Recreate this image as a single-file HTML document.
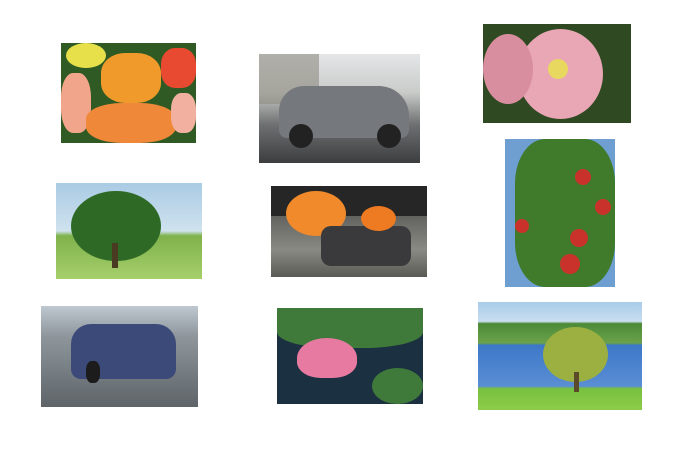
<!DOCTYPE html>
<html><head><meta charset="utf-8"><style>
body{margin:0;width:688px;height:454px;background:#fff;position:relative;overflow:hidden;font-family:"Liberation Sans",sans-serif}
.p{position:absolute;overflow:hidden}
.p div{position:absolute}
</style></head><body>
<div class="p" style="left:61px;top:43px;width:135px;height:100px;background:#2f5a24">
 <div style="left:5px;top:0;width:40px;height:25px;background:#e8e04a;border-radius:50%"></div>
 <div style="left:40px;top:10px;width:60px;height:50px;background:#f19a2c;border-radius:40%"></div>
 <div style="left:0;top:30px;width:30px;height:60px;background:#f1a58a;border-radius:40%"></div>
 <div style="left:25px;top:60px;width:90px;height:40px;background:#f0883a;border-radius:40%"></div>
 <div style="left:100px;top:5px;width:35px;height:40px;background:#e74a30;border-radius:40%"></div>
 <div style="left:110px;top:50px;width:25px;height:40px;background:#f2b0a0;border-radius:40%"></div>
</div>
<div class="p" style="left:259px;top:54px;width:161px;height:109px;background:linear-gradient(#e4e6e8 0,#c9ccc9 35%,#6d6f70 65%,#3b3d3f 100%)">
 <div style="left:0;top:0;width:60px;height:50px;background:#8e8a80;opacity:.6"></div>
 <div style="left:20px;top:32px;width:130px;height:52px;background:#75787c;border-radius:25px 30px 8px 8px"></div>
 <div style="left:30px;top:70px;width:24px;height:24px;background:#222;border-radius:50%"></div>
 <div style="left:118px;top:70px;width:24px;height:24px;background:#222;border-radius:50%"></div>
</div>
<div class="p" style="left:483px;top:24px;width:148px;height:99px;background:#2f4a22">
 <div style="left:35px;top:5px;width:85px;height:90px;background:#e9a7b5;border-radius:50%"></div>
 <div style="left:0;top:10px;width:50px;height:70px;background:#d98ea0;border-radius:50%"></div>
 <div style="left:65px;top:35px;width:20px;height:20px;background:#e8d860;border-radius:50%"></div>
</div>
<div class="p" style="left:56px;top:183px;width:146px;height:96px;background:linear-gradient(#a9cbe4 0,#cfe2ee 50%,#7fb24c 55%,#a6cf6a 100%)">
 <div style="left:15px;top:8px;width:90px;height:70px;background:#2e6a25;border-radius:50%"></div>
 <div style="left:56px;top:60px;width:6px;height:25px;background:#4a3a22"></div>
</div>
<div class="p" style="left:271px;top:186px;width:156px;height:91px;background:linear-gradient(#3a3a3a 0,#6a6a66 40%,#8a8a84 70%,#5a5a55 100%)">
 <div style="left:0;top:0;width:156px;height:30px;background:#262626"></div>
 <div style="left:15px;top:5px;width:60px;height:45px;background:#f08a2a;border-radius:50%"></div>
 <div style="left:50px;top:40px;width:90px;height:40px;background:#3a3a3c;border-radius:10px"></div>
 <div style="left:90px;top:20px;width:35px;height:25px;background:#ee7a22;border-radius:50%"></div>
</div>
<div class="p" style="left:505px;top:139px;width:110px;height:148px;background:#6f9ed0">
 <div style="left:10px;top:0;width:100px;height:148px;background:#3f7b2a;border-radius:30%"></div>
 <div style="left:70px;top:30px;width:16px;height:16px;background:#c9322a;border-radius:50%"></div>
 <div style="left:55px;top:115px;width:20px;height:20px;background:#c9322a;border-radius:50%"></div>
 <div style="left:65px;top:90px;width:18px;height:18px;background:#c9322a;border-radius:50%"></div>
 <div style="left:10px;top:80px;width:14px;height:14px;background:#c9322a;border-radius:50%"></div>
 <div style="left:90px;top:60px;width:16px;height:16px;background:#c9322a;border-radius:50%"></div>
</div>
<div class="p" style="left:41px;top:306px;width:157px;height:101px;background:linear-gradient(#bfc8d0 0,#8e969c 30%,#5e6468 100%)">
 <div style="left:30px;top:18px;width:105px;height:55px;background:#3c4a7a;border-radius:20px 20px 10px 10px"></div>
 <div style="left:45px;top:55px;width:14px;height:22px;background:#1c1c1c;border-radius:40%"></div>
</div>
<div class="p" style="left:277px;top:308px;width:146px;height:96px;background:#1b3040">
 <div style="left:0;top:0;width:146px;height:40px;background:#3f7a3a;border-radius:0 0 40% 40%"></div>
 <div style="left:20px;top:30px;width:60px;height:40px;background:#e77aa0;border-radius:50% 50% 40% 40%"></div>
 <div style="left:95px;top:60px;width:51px;height:36px;background:#3f7a3a;border-radius:50%"></div>
</div>
<div class="p" style="left:478px;top:302px;width:164px;height:108px;background:linear-gradient(#a8cbe8 0,#c9def0 18%,#4c8a38 20%,#6aa24a 38%,#3d78c8 40%,#5a8ed4 78%,#77c040 80%,#8ccc48 100%)">
 <div style="left:65px;top:25px;width:65px;height:55px;background:#9bb040;border-radius:50%"></div>
 <div style="left:96px;top:70px;width:5px;height:20px;background:#5a4a2a"></div>
</div>
</body></html>
